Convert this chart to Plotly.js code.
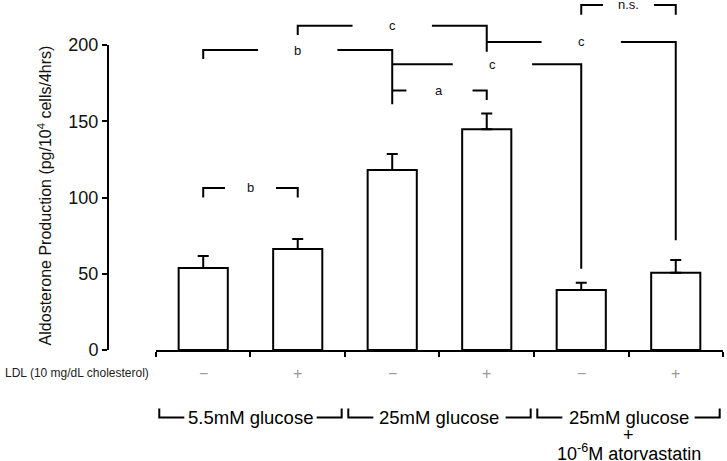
<!DOCTYPE html>
<html>
<head>
<meta charset="utf-8">
<script src="https://cdn.plot.ly/plotly-3.0.1.min.js"></script>
<style>
  html, body { margin: 0; padding: 0; background: #fff; }
  #chart { width: 727px; height: 461px; }
</style>
</head>
<body>
<div id="chart"></div>
<script>
// values
const ldlLabels = ['\u2212', '+', '\u2212', '+', '\u2212', '+'];
const aldosterone = [53.7, 66.2, 118.1, 144.8, 39.3, 50.7];
const sem = [7.9, 6.6, 10.5, 10.3, 4.8, 8.3];
const groupLabels = ['5.5mM glucose', '25mM glucose', '25mM glucose'];

// significance brackets: bars compared, bracket level and where each end drops to
const brackets = [
  {from: 1, to: 3, level: 212.7, dropL: 206.6, dropR: 195.6, label: 'c', gap: 0.42},
  {from: 0, to: 2, level: 196.7, dropL: 190.8, dropR: 161.2, label: 'b', gap: 0.42},
  {from: 3, to: 5, level: 202.0, dropL: 202.0, dropR: 71.9, label: 'c', gap: 0.42},
  {from: 2, to: 4, level: 187.3, dropL: 187.3, dropR: 53.3, label: 'c', gap: 0.42, mid: 3.06},
  {from: 2, to: 3, level: 170.2, dropL: 170.2, dropR: 163.9, label: 'a', gap: 0.35},
  {from: 4, to: 5, level: 226.3, dropL: 219.9, dropR: 219.9, label: 'n.s.', gap: 0.27},
  {from: 0, to: 1, level: 106.3, dropL: 100.0, dropR: 100.0, label: 'b', gap: 0.27}
];

const FONT = 'Liberation Sans, Arial, sans-serif';
const yMax = 200;
const toPaper = v => v / yMax;

const xs = aldosterone.map((_, i) => i);

const trace = {
  type: 'bar',
  x: xs,
  y: aldosterone,
  width: 0.52,
  marker: {color: '#fff', line: {color: '#000', width: 2}},
  error_y: {
    type: 'data', symmetric: false,
    array: sem, arrayminus: sem.map(() => 0),
    color: '#000', thickness: 2, width: 5.5
  },
  hoverinfo: 'none'
};

const shapes = [];
const annotations = [];

brackets.forEach(b => {
  const mid = b.mid !== undefined ? b.mid : (b.from + b.to) / 2;
  const lv = toPaper(b.level);
  const path = 'M' + b.from + ',' + toPaper(b.dropL) +
    ' L' + b.from + ',' + lv + ' L' + (mid - b.gap) + ',' + lv +
    ' M' + (mid + b.gap) + ',' + lv + ' L' + b.to + ',' + lv +
    ' L' + b.to + ',' + toPaper(b.dropR);
  shapes.push({type: 'path', xref: 'x', yref: 'paper', path: path,
    line: {color: '#000', width: 2}});
  annotations.push({xref: 'x', yref: 'paper', x: mid, y: lv, text: b.label,
    showarrow: false, xanchor: 'center', yanchor: 'middle',
    font: {family: FONT, size: 13, color: '#111'}});
});

// LDL +/- row
ldlLabels.forEach((t, i) => {
  annotations.push({xref: 'x', yref: 'paper', x: i, y: toPaper(-15.4), text: t,
    showarrow: false, xanchor: 'center', yanchor: 'middle',
    font: {family: FONT, size: 16, color: '#9a9a9a'}});
});
annotations.push({xref: 'paper', yref: 'paper', x: -0.1707, y: toPaper(-15.4),
  text: 'LDL (10 mg/dL cholesterol)', showarrow: false,
  xanchor: 'left', yanchor: 'middle',
  font: {family: FONT, size: 12, color: '#222'}});

// treatment groups under the axis
const gTop = toPaper(-38.4), gBot = toPaper(-44.3);
groupLabels.forEach((t, g) => {
  const c = 2 * g + 0.5;
  shapes.push({type: 'path', xref: 'x', yref: 'paper',
    path: 'M' + (c - 0.965) + ',' + gTop + ' L' + (c - 0.965) + ',' + gBot +
      ' L' + (c - 0.70) + ',' + gBot + ' M' + (c + 0.70) + ',' + gBot +
      ' L' + (c + 0.965) + ',' + gBot + ' L' + (c + 0.965) + ',' + gTop,
    line: {color: '#000', width: 2}});
  annotations.push({xref: 'x', yref: 'paper', x: c, y: gBot, text: t,
    showarrow: false, xanchor: 'center', yanchor: 'middle',
    font: {family: FONT, size: 18.5, color: '#000'}});
});
annotations.push({xref: 'x', yref: 'paper', x: 4.5, y: toPaper(-55.5), text: '+',
  showarrow: false, xanchor: 'center', yanchor: 'middle',
  font: {family: FONT, size: 18, color: '#000'}});
annotations.push({xref: 'x', yref: 'paper', x: 4.5, y: toPaper(-67.0),
  text: '10<sup>-6</sup>M atorvastatin',
  showarrow: false, xanchor: 'center', yanchor: 'middle',
  font: {family: FONT, size: 18, color: '#000'}});

// y title
annotations.push({xref: 'paper', yref: 'paper', x: -0.1024, y: 0.507,
  text: 'Aldosterone Production (pg/10<sup>4</sup> cells/4hrs)',
  textangle: -90, showarrow: false, xanchor: 'center', yanchor: 'middle',
  font: {family: FONT, size: 16, color: '#111'}});

const layout = {
  width: 727, height: 461,
  margin: {l: 108, r: 4, t: 45, b: 111},
  paper_bgcolor: '#fff', plot_bgcolor: '#fff',
  showlegend: false,
  xaxis: {
    domain: [0.078, 1],
    range: [-0.5, 5.5],
    tickmode: 'array',
    tickvals: [-0.5, 0.5, 1.5, 2.5, 3.5, 4.5, 5.5],
    showticklabels: false,
    ticks: 'outside', ticklen: 5, tickwidth: 2, tickcolor: '#000',
    showline: true, linecolor: '#000', linewidth: 2,
    showgrid: false, zeroline: false, fixedrange: true
  },
  yaxis: {
    anchor: 'free', position: 0,
    range: [0, yMax],
    tickmode: 'array', tickvals: [0, 50, 100, 150, 200],
    ticks: 'outside', ticklen: 5, tickwidth: 2, tickcolor: '#000',
    tickfont: {family: FONT, size: 18, color: '#111'},
    showline: true, linecolor: '#000', linewidth: 2,
    showgrid: false, zeroline: false, fixedrange: true
  },
  shapes: shapes,
  annotations: annotations
};

Plotly.newPlot('chart', [trace], layout, {displayModeBar: false, staticPlot: true});
</script>
</body>
</html>
